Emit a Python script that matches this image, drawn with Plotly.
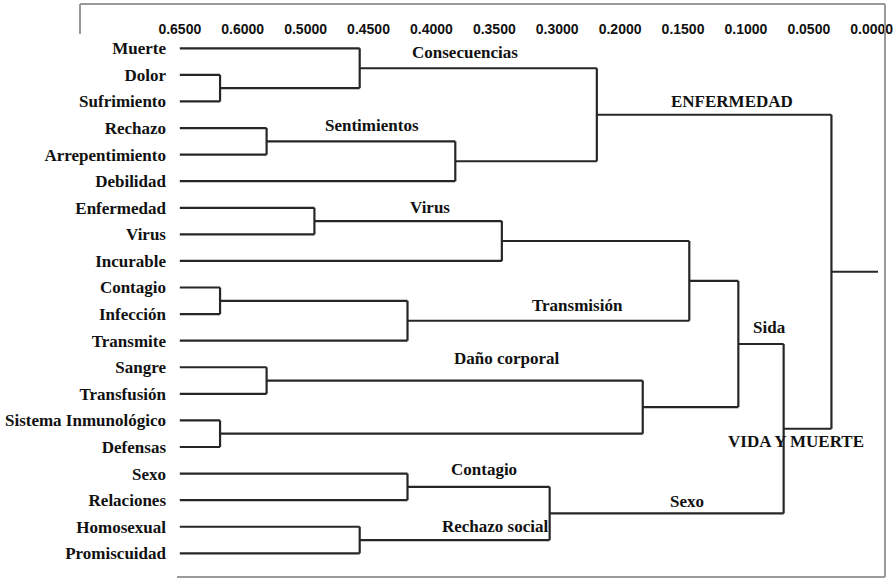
import numpy as np
import plotly.graph_objects as go

# ---------------- data ----------------
tick_labels = ["0.6500", "0.6000", "0.5000", "0.4500", "0.4000", "0.3500",
               "0.3000", "0.2000", "0.1500", "0.1000", "0.0500", "0.0000"]
tick_values = [0.65, 0.60, 0.50, 0.45, 0.40, 0.35, 0.30, 0.20, 0.15, 0.10, 0.05, 0.00]

leaves = ["Muerte", "Dolor", "Sufrimiento", "Rechazo", "Arrepentimiento", "Debilidad",
          "Enfermedad", "Virus", "Incurable", "Contagio", "Infección", "Transmite",
          "Sangre", "Transfusión", "Sistema Inmunológico", "Defensas",
          "Sexo", "Relaciones", "Homosexual", "Promiscuidad"]
leaf_base = 0.65

merge_nodes = ["DS", "Cons", "RA", "Sent", "ENF", "EV", "Vir", "CI", "Trans", "VT",
               "SaT", "SiD", "Dano", "Sida", "SR", "HP", "SexoC", "VM", "Root"]
merge_left = ["Dolor", "Muerte", "Rechazo", "RA", "Cons", "Enfermedad", "EV", "Contagio",
              "CI", "Vir", "Sangre", "Sistema Inmunológico", "SaT", "VT", "Sexo",
              "Homosexual", "SR", "Sida", "ENF"]
merge_right = ["Sufrimiento", "DS", "Arrepentimiento", "Debilidad", "Sent", "Virus",
               "Incurable", "Infección", "Transmite", "Trans", "Transfusión", "Defensas",
               "SiD", "Dano", "Relaciones", "Promiscuidad", "HP", "SexoC", "VM"]
merge_dist = [0.618, 0.457, 0.562, 0.381, 0.237, 0.493, 0.344, 0.618, 0.419, 0.145,
              0.562, 0.618, 0.182, 0.106, 0.419, 0.457, 0.306, 0.070, 0.032]
root_stub = -0.005

cluster_names = ["Consecuencias", "Sentimientos", "ENFERMEDAD", "Virus", "Transmisión",
                 "Sida", "Daño corporal", "VIDA Y MUERTE", "Contagio", "Sexo",
                 "Rechazo social"]

# ---------------- layout geometry ----------------
W, H = 895, 578
ML, MR, MT, MB = 177, 10, 38, 1
PW, PH = W - ML - MR, H - MT - MB
px_per_x = 62.9
px_per_y = 26.58
x0 = -(179.8 - ML) / px_per_x
y0 = -(48.3 - MT) / px_per_y


def to_pos(v):
    xp = np.array(tick_values[::-1])
    fp = np.arange(len(tick_values))[::-1].astype(float)
    if v < xp[0]:
        return fp[0] + (xp[0] - v) / (xp[1] - xp[0]) * (fp[0] - fp[1])
    return float(np.interp(v, xp, fp))


def px2paper(px, py):
    return (px - ML) / PW, 1 - (py - MT) / PH


# ---------------- dendrogram geometry ----------------
ypos = {name: i for i, name in enumerate(leaves)}
xpos = {name: to_pos(leaf_base) for name in leaves}
xs, ys = [], []
for node, a, b, d in zip(merge_nodes, merge_left, merge_right, merge_dist):
    nx = to_pos(d)
    for c in (a, b):
        xs += [xpos[c], nx, None]
        ys += [ypos[c], ypos[c], None]
    xs += [nx, nx, None]
    ys += [ypos[a], ypos[b], None]
    xpos[node] = nx
    ypos[node] = (ypos[a] + ypos[b]) / 2
xs += [xpos["Root"], to_pos(root_stub), None]
ys += [ypos["Root"], ypos["Root"], None]

fig = go.Figure()
fig.add_trace(go.Scatter(x=xs, y=ys, mode="lines",
                         line=dict(color="#262626", width=2.2), hoverinfo="skip",
                         showlegend=False))

serif = dict(family="Liberation Serif", size=17, color="#111111", weight="bold")

label_px = [(465, 52), (372, 126), (732, 101), (430, 208), (577, 305), (769, 327),
            (507, 359), (796, 441), (484, 469), (687, 501), (495, 526)]
for name, (px, py) in zip(cluster_names, label_px):
    ax, ay = px2paper(px, py)
    fig.add_annotation(x=ax, y=ay, xref="paper", yref="paper", text=name,
                       showarrow=False, font=serif, xanchor="center", yanchor="middle")

# frame lines
frame_col = "#9a9a9a"
segs = [((80, 4), (885, 4)), ((80, 4), (80, 34)), ((885, 4), (885, 577)),
        ((177, 577), (885, 577))]
for (ax1, ay1), (ax2, ay2) in segs:
    p1 = px2paper(ax1, ay1)
    p2 = px2paper(ax2, ay2)
    fig.add_shape(type="line", xref="paper", yref="paper", x0=p1[0], y0=p1[1],
                  x1=p2[0], y1=p2[1], line=dict(color=frame_col, width=2))

fig.update_layout(
    width=W, height=H,
    margin=dict(l=ML, r=MR, t=MT, b=MB, pad=0),
    paper_bgcolor="white", plot_bgcolor="white",
    xaxis=dict(range=[x0, x0 + PW / px_per_x], side="top",
               tickvals=list(range(len(tick_labels))), ticktext=tick_labels,
               tickfont=dict(family="Liberation Sans", size=14, color="#111111",
                             weight="bold"),
               showgrid=False, zeroline=False, showline=False, ticks=""),
    yaxis=dict(range=[y0 + PH / px_per_y, y0],
               tickvals=list(range(len(leaves))), ticktext=leaves,
               tickfont=serif, ticklabelstandoff=10,
               showgrid=False, zeroline=False, showline=False, ticks=""),
)

fig.write_html("out.html", config={"displayModeBar": False},
               post_script="document.body.style.margin='0';document.body.style.overflow='hidden';")
